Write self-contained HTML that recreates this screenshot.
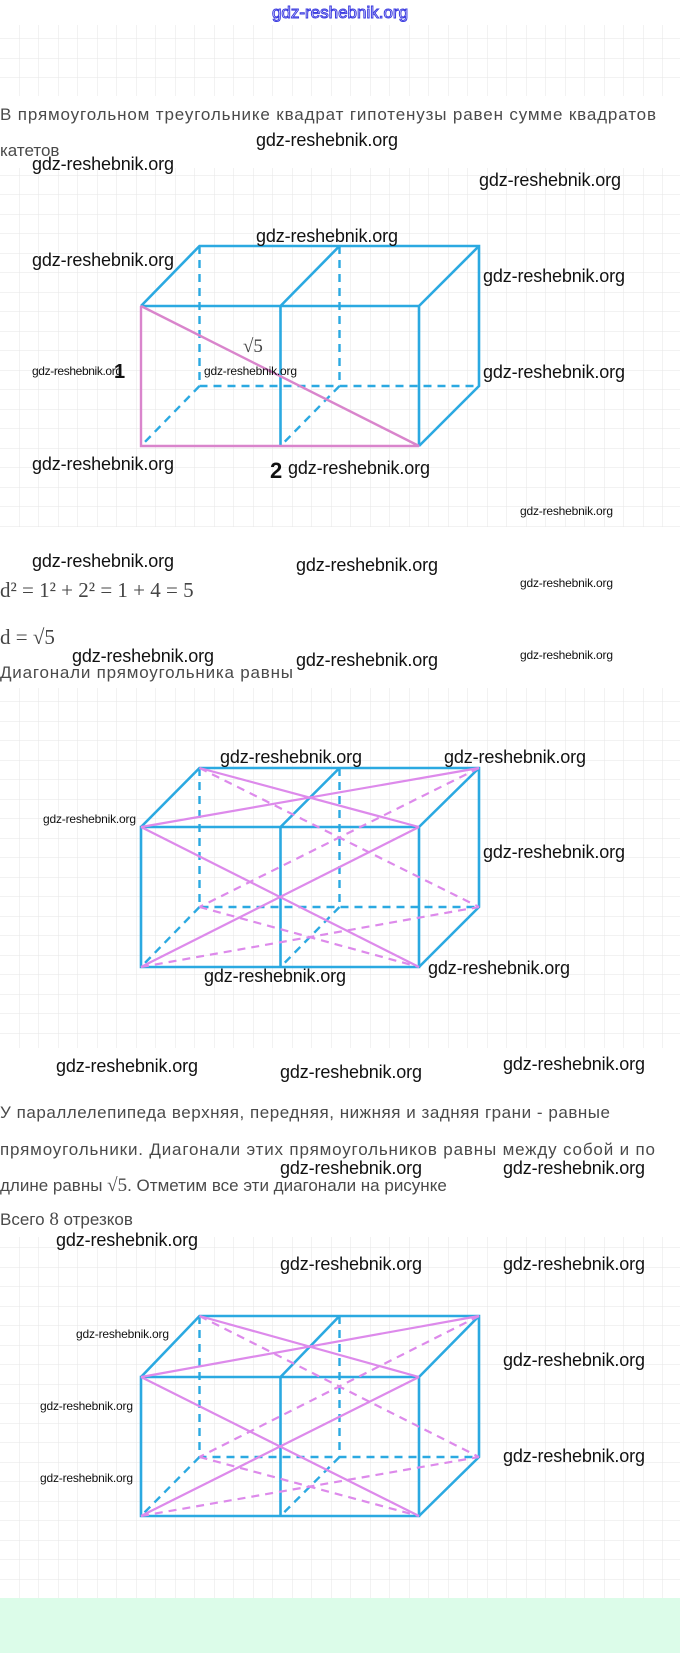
<!DOCTYPE html>
<html><head><meta charset="utf-8"><style>
html,body{margin:0;padding:0;background:#fff;}
svg{display:block;}
.t{font-family:"Liberation Sans",sans-serif;fill:#4a4a4a;font-size:17px;}
.w{font-family:"Liberation Sans Narrow","Liberation Sans",sans-serif;fill:#111;font-size:18px;}
.s{font-family:"Liberation Sans Narrow","Liberation Sans",sans-serif;fill:#111;font-size:12px;}
.m{font-family:"Liberation Serif",serif;fill:#444;font-size:21px;}
.b{stroke:#2ba9e1;stroke-width:2.6;fill:none;}
.bd{stroke:#2ba9e1;stroke-width:2.4;fill:none;stroke-dasharray:8 6;}
.p{stroke:#d985cc;stroke-width:2.4;fill:none;}
.q{stroke:#dd8aeb;stroke-width:2.2;fill:none;}
.qd{stroke:#dd8aeb;stroke-width:2.2;fill:none;stroke-dasharray:8 6;}
</style></head><body>
<svg width="680" height="1653" viewBox="0 0 680 1653" xmlns="http://www.w3.org/2000/svg">
<defs>
<pattern id="g" width="19.5" height="19.5" patternUnits="userSpaceOnUse">
<path d="M19.5 0V19.5M0 19.5H19.5" stroke="#e6e6e6" stroke-width="1" fill="none"/>
</pattern>
</defs>
<rect x="0" y="25" width="680" height="71" fill="url(#g)"/>
<rect x="0" y="168" width="680" height="359" fill="url(#g)"/>
<rect x="0" y="688" width="680" height="360" fill="url(#g)"/>
<rect x="0" y="1237" width="680" height="361" fill="url(#g)"/>
<rect x="0" y="1598" width="680" height="55" fill="#dcfce9"/>

<text x="340" y="18" text-anchor="middle" style="font-family:'Liberation Sans Narrow','Liberation Sans',sans-serif;font-size:17px;fill:#fff;stroke:#3a3ae0;stroke-width:1">gdz-reshebnik.org</text>

<text class="t" x="0" y="120" textLength="656">В прямоугольном треугольнике квадрат гипотенузы равен сумме квадратов</text>
<text class="t" x="0" y="156">катетов</text>

<!-- cube 1 -->
<g>
<path class="bd" d="M199.5 246V386H479M339.5 246V386M199.5 386L141 446M339.5 386L280.5 446"/>
<path class="b" d="M141 306L199.5 246H479V386L419 446M280.5 306L339.5 246M419 306L479 246M141 306H419V446M280.5 306V446"/>
<path class="p" d="M141 306V446H419L141 306"/>
</g>
<text class="m" x="243" y="352" style="font-size:19px">√5</text>
<text x="114" y="378" style="font-family:'Liberation Sans',sans-serif;font-weight:bold;font-size:20px;fill:#111">1</text>
<text x="270" y="478" style="font-family:'Liberation Sans',sans-serif;font-weight:bold;font-size:22px;fill:#111">2</text>

<text class="m" x="0" y="597">d² = 1² + 2² = 1 + 4 = 5</text>
<text class="m" x="0" y="644">d = √5</text>
<text class="t" x="0" y="678" textLength="293">Диагонали прямоугольника равны</text>

<!-- cube 2 -->
<g>
<path class="bd" d="M199.5 768V907H479M339.5 768V907M199.5 907L141 967M339.5 907L280.5 967"/>
<path class="b" d="M141 827L199.5 768H479V907L419 967M280.5 827L339.5 768M419 827L479 768M141 827H419V967H141ZM280.5 827V967"/>
<path class="q" d="M199.5 768L419 827M141 827L479 768M141 827L419 967M141 967L419 827"/>
<path class="qd" d="M199.5 768L479 907M479 768L199.5 907M141 967L479 907M199.5 907L419 967"/>
</g>

<text class="t" x="0" y="1118" textLength="610">У параллелепипеда верхняя, передняя, нижняя и задняя грани - равные</text>
<text class="t" x="0" y="1155" textLength="655">прямоугольники. Диагонали этих прямоугольников равны между собой и по</text>
<text class="t" x="0" y="1191">длине равны <tspan style="font-family:'Liberation Serif',serif;font-size:19px">√5</tspan>. Отметим все эти диагонали на рисунке</text>
<text class="t" x="0" y="1225">Всего <tspan style="font-family:'Liberation Serif',serif;font-size:19px">8</tspan> отрезков</text>

<!-- cube 3 -->
<g>
<path class="bd" d="M199.5 1316V1457H479M339.5 1316V1457M199.5 1457L141 1516M339.5 1457L280.5 1516"/>
<path class="b" d="M141 1377L199.5 1316H479V1457L419 1516M280.5 1377L339.5 1316M419 1377L479 1316M141 1377H419V1516H141ZM280.5 1377V1516"/>
<path class="q" d="M199.5 1316L419 1377M141 1377L479 1316M141 1377L419 1516M141 1516L419 1377"/>
<path class="qd" d="M199.5 1316L479 1457M479 1316L199.5 1457M141 1516L479 1457M199.5 1457L419 1516"/>
</g>

<!-- watermarks -->
<g class="w">
<text x="256" y="146" textLength="142">gdz-reshebnik.org</text>
<text x="32" y="170" textLength="142">gdz-reshebnik.org</text>
<text x="479" y="186" textLength="142">gdz-reshebnik.org</text>
<text x="256" y="242" textLength="142">gdz-reshebnik.org</text>
<text x="32" y="266" textLength="142">gdz-reshebnik.org</text>
<text x="483" y="282" textLength="142">gdz-reshebnik.org</text>
<text x="483" y="378" textLength="142">gdz-reshebnik.org</text>
<text x="32" y="470" textLength="142">gdz-reshebnik.org</text>
<text x="288" y="474" textLength="142">gdz-reshebnik.org</text>
<text x="32" y="567" textLength="142">gdz-reshebnik.org</text>
<text x="296" y="571" textLength="142">gdz-reshebnik.org</text>
<text x="72" y="662" textLength="142">gdz-reshebnik.org</text>
<text x="296" y="666" textLength="142">gdz-reshebnik.org</text>
<text x="220" y="763" textLength="142">gdz-reshebnik.org</text>
<text x="444" y="763" textLength="142">gdz-reshebnik.org</text>
<text x="483" y="858" textLength="142">gdz-reshebnik.org</text>
<text x="428" y="974" textLength="142">gdz-reshebnik.org</text>
<text x="204" y="982" textLength="142">gdz-reshebnik.org</text>
<text x="56" y="1072" textLength="142">gdz-reshebnik.org</text>
<text x="280" y="1078" textLength="142">gdz-reshebnik.org</text>
<text x="503" y="1070" textLength="142">gdz-reshebnik.org</text>
<text x="280" y="1174" textLength="142">gdz-reshebnik.org</text>
<text x="503" y="1174" textLength="142">gdz-reshebnik.org</text>
<text x="56" y="1246" textLength="142">gdz-reshebnik.org</text>
<text x="280" y="1270" textLength="142">gdz-reshebnik.org</text>
<text x="503" y="1270" textLength="142">gdz-reshebnik.org</text>
<text x="503" y="1366" textLength="142">gdz-reshebnik.org</text>
<text x="503" y="1462" textLength="142">gdz-reshebnik.org</text>
</g>
<g class="s">
<text x="32" y="375" textLength="90">gdz-reshebnik.org</text>
<text x="204" y="375" textLength="93">gdz-reshebnik.org</text>
<text x="520" y="515" textLength="93">gdz-reshebnik.org</text>
<text x="520" y="587" textLength="93">gdz-reshebnik.org</text>
<text x="520" y="659" textLength="93">gdz-reshebnik.org</text>
<text x="43" y="823" textLength="93">gdz-reshebnik.org</text>
<text x="76" y="1338" textLength="93">gdz-reshebnik.org</text>
<text x="40" y="1410" textLength="93">gdz-reshebnik.org</text>
<text x="40" y="1482" textLength="93">gdz-reshebnik.org</text>
</g>
</svg>
</body></html>
